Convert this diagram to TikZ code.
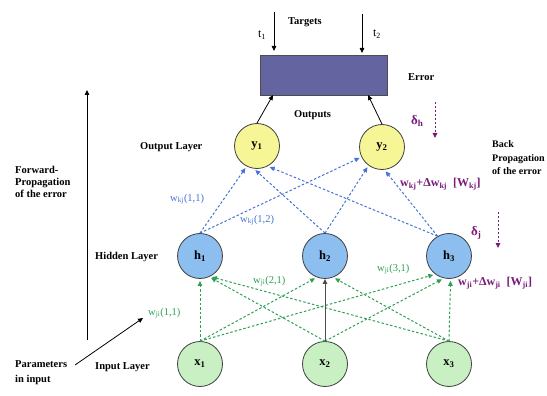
\documentclass[tikz,border=0pt]{standalone}
\usepackage{fontspec}
\setmainfont{Liberation Serif}
\usetikzlibrary{arrows.meta}
\definecolor{boxfill}{RGB}{100,100,160}
\definecolor{outfill}{RGB}{246,246,150}
\definecolor{hidfill}{RGB}{140,190,240}
\definecolor{infill}{RGB}{200,240,195}
\definecolor{wblue}{RGB}{70,115,215}
\definecolor{wgreen}{RGB}{45,160,85}
\definecolor{wpurple}{RGB}{120,25,120}
\begin{document}
\begin{tikzpicture}[x=1pt,y=-1pt,
  neuron/.style={circle,draw=black!75,line width=0.8pt,minimum size=45pt,inner sep=0pt,
    font=\bfseries\fontsize{12.5}{12.5}\selectfont},
  outn/.style={neuron,fill=outfill},
  hidn/.style={neuron,fill=hidfill},
  inn/.style={neuron,fill=infill},
  lbl/.style={font=\bfseries\fontsize{10.5}{13}\selectfont,align=left,inner sep=0pt,anchor=west},
  wlbl/.style={font=\fontsize{10.5}{12}\selectfont,inner sep=0pt,anchor=west},
  plbl/.style={font=\bfseries\fontsize{12}{12}\selectfont,text=wpurple,inner sep=0pt,anchor=west},
  tip/.style={-{Triangle[length=5pt,width=4.5pt]}},
  blk/.style={tip,line width=0.8pt,black},
  bluearr/.style={tip,wblue,line width=1pt,dash pattern=on 2.5pt off 2pt,shorten >=2pt},
  greenarr/.style={tip,wgreen,line width=1pt,dash pattern=on 2.5pt off 2pt,shorten >=2pt},
  purparr/.style={tip,wpurple,line width=0.9pt,dash pattern=on 2pt off 2pt},
]
\useasboundingbox (0,0) rectangle (547,396);

% error box and target inputs
\node[draw=black!70,fill=boxfill,minimum width=127pt,minimum height=40pt,inner sep=0pt] (err) at (323.5,75) {};
\coordinate (t1top) at (274,12);
\coordinate (t1end) at (274,51);
\coordinate (t2top) at (362,14);
\coordinate (t2end) at (362,53);
\draw[blk] (t1top) -- (t1end);
\draw[blk] (t2top) -- (t2end);
\node[font=\fontsize{12}{12}\selectfont,inner sep=0pt] (t1lbl) at (262,35) {t\textsubscript{1}};
\node[font=\fontsize{12}{12}\selectfont,inner sep=0pt] (t2lbl) at (377,34) {t\textsubscript{2}};
\node[lbl] (targets) at (288,22) {Targets};
\node[lbl] (errlbl) at (408,77) {Error};
\node[lbl] (outputs) at (294,115) {Outputs};

% neurons
\node[outn] (y1) at (257,146) {y\textsubscript{1}};
\node[outn] (y2) at (382,147) {y\textsubscript{2}};
\node[hidn] (h1) at (200,256) {h\textsubscript{1}};
\node[hidn] (h2) at (325,256) {h\textsubscript{2}};
\node[hidn] (h3) at (449,256) {h\textsubscript{3}};
\node[inn] (x1) at (200,364) {x\textsubscript{1}};
\node[inn] (x2) at (325,364) {x\textsubscript{2}};
\node[inn] (x3) at (449,364) {x\textsubscript{3}};

% outputs into the error box
\coordinate (e1) at (273,95);
\coordinate (e2) at (368,95);
\draw[blk] (y1.north) -- (e1);
\draw[blk] (y2.north) -- (e2);

% hidden to output weights
\draw[bluearr] (h1.north) -- (y1.-117);
\draw[bluearr] (h1.north) -- (y2.-154);
\draw[bluearr] (h2.north) -- (y1.-98);
\draw[bluearr] (h2.north) -- (y2.-126);
\draw[bluearr] (h3.120) -- (y1.-62);
\draw[bluearr] (h3.120) -- (y2.-84);

% input to hidden weights
\draw[greenarr] (x1.north) -- (h1.south);
\draw[greenarr] (x1.north) -- (h2.-111);
\draw[greenarr] (x1.north) -- (h3.-127);
\draw[greenarr] (x2.north) -- (h1.-66);
\draw[greenarr] (x2.north) -- (h3.-103);
\draw[greenarr] (x3.north) -- (h1.-64);
\draw[greenarr] (x3.north) -- (h2.-69);
\draw[greenarr] (x3.north) -- (h3.-86);
\draw[blk,line width=1pt,black!70] (x2.north) -- (h2.south);

% weight labels
\node[wlbl,text=wblue] (wkj11) at (170,199) {w\textsubscript{kj}(1,1)};
\node[wlbl,text=wblue] (wkj12) at (240,220) {w\textsubscript{kj}(1,2)};
\node[wlbl,text=wgreen] (wji11) at (148,313) {w\textsubscript{ji}(1,1)};
\node[wlbl,text=wgreen] (wji21) at (253,281) {w\textsubscript{ji}(2,1)};
\node[wlbl,text=wgreen] (wji31) at (377,269) {w\textsubscript{ji}(3,1)};
\node[plbl] (wkjupd) at (400,184) {w\textsubscript{kj}+Δw\textsubscript{kj}\enspace[W\textsubscript{kj}]};
\node[plbl] (wjiupd) at (458,283) {w\textsubscript{ji}+Δw\textsubscript{ji}\enspace[W\textsubscript{ji}]};

% error deltas
\node[plbl,font=\bfseries\fontsize{13}{13}\selectfont] (dh) at (411,121) {δ\textsubscript{h}};
\node[plbl,font=\bfseries\fontsize{13}{13}\selectfont] (dj) at (471,233) {δ\textsubscript{j}};
\coordinate (dhtop) at (435,102);
\coordinate (dhend) at (435,138);
\coordinate (djtop) at (498,212);
\coordinate (djend) at (498,248);
\draw[purparr] (dhtop) -- (dhend);
\draw[purparr] (djtop) -- (djend);

% layer names and side notes
\node[lbl] (outlayer) at (140,147) {Output Layer};
\node[lbl] (hidlayer) at (95,257) {Hidden Layer};
\node[lbl] (inlayer) at (95,367) {Input Layer};
\node[lbl,font=\bfseries\fontsize{10.5}{12}\selectfont] (fwd) at (15,182) {Forward-\\Propagation\\of the error};
\node[lbl,font=\bfseries\fontsize{10}{13.5}\selectfont] (back) at (492,158) {Back\\Propagation\\of the error};
\node[lbl,font=\bfseries\fontsize{10.5}{15}\selectfont,anchor=base west] (params) at (15,382) {Parameters\\in input};

% forward direction and parameter arrows
\coordinate (fwdbot) at (87,340);
\coordinate (fwdtop) at (87,90);
\draw[blk] (fwdbot) -- (fwdtop);
\coordinate (pstart) at (75,365);
\coordinate (pend) at (143,318);
\draw[blk] (pstart) -- (pend);
\end{tikzpicture}
\end{document}
